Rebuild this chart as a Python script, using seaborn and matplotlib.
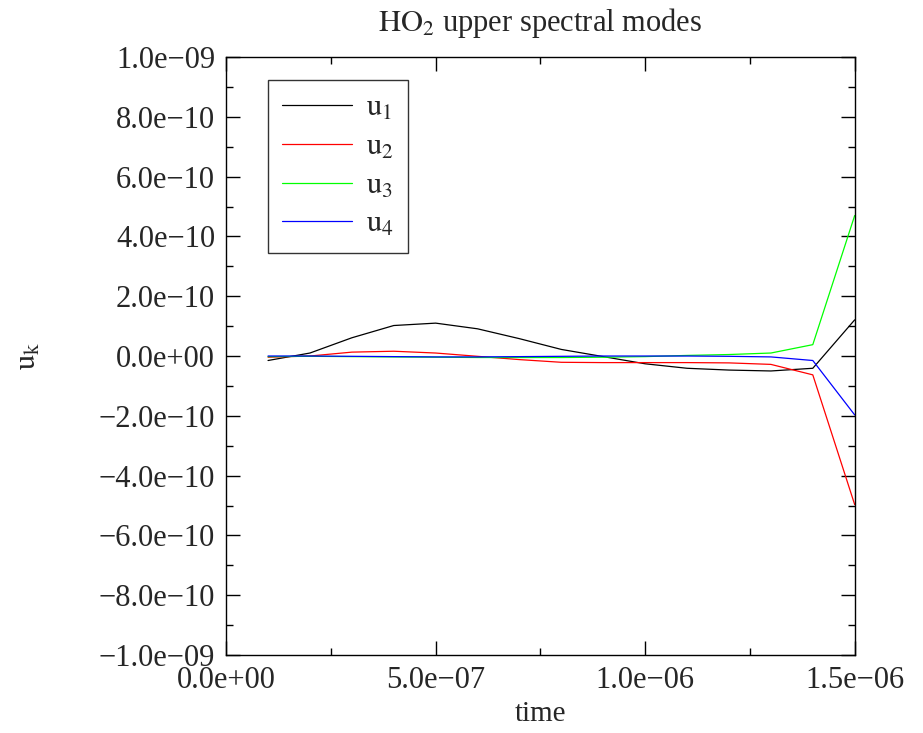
import numpy as np
import pandas as pd
import matplotlib
matplotlib.use("Agg")
import matplotlib.pyplot as plt
from matplotlib.ticker import FuncFormatter, MultipleLocator
import seaborn as sns

time = [1e-7, 2e-7, 3e-7, 4e-7, 5e-7, 6e-7, 7e-7, 8e-7, 9e-7, 1.0e-6,
        1.1e-6, 1.2e-6, 1.3e-6, 1.4e-6, 1.5e-6]
u1 = [-0.15e-10, 0.10e-10, 0.61e-10, 1.02e-10, 1.10e-10, 0.91e-10, 0.58e-10, 0.22e-10,
      -0.02e-10, -0.26e-10, -0.41e-10, -0.47e-10, -0.50e-10, -0.41e-10, 1.21e-10]
u2 = [-0.04e-10, 0.0, 0.13e-10, 0.16e-10, 0.10e-10, -0.01e-10, -0.12e-10, -0.21e-10,
      -0.22e-10, -0.22e-10, -0.22e-10, -0.23e-10, -0.28e-10, -0.63e-10, -4.97e-10]
u3 = [-0.02e-10, -0.01e-10, -0.02e-10, -0.03e-10, -0.04e-10, -0.05e-10, -0.05e-10, -0.05e-10,
      -0.04e-10, -0.02e-10, 0.02e-10, 0.05e-10, 0.10e-10, 0.38e-10, 4.70e-10]
u4 = [0.0, 0.0, -0.01e-10, -0.02e-10, -0.03e-10, -0.03e-10, -0.02e-10, -0.01e-10,
      0.0, 0.0, 0.0, -0.01e-10, -0.03e-10, -0.15e-10, -1.97e-10]
series_names = ["$\\mathrm{u}_{1}$", "$\\mathrm{u}_{2}$", "$\\mathrm{u}_{3}$", "$\\mathrm{u}_{4}$"]
colors = ["#000000", "#ff0000", "#00ff00", "#0000ff"]

rows = []
for name, vals in zip(series_names, [u1, u2, u3, u4]):
    for t, v in zip(time, vals):
        rows.append({"time": t, "value": v, "series": name})
df = pd.DataFrame(rows)

sns.set_style("ticks")
plt.rcParams["font.family"] = ["Liberation Serif", "DejaVu Serif"]
plt.rcParams["mathtext.fontset"] = "stix"
plt.rcParams["axes.linewidth"] = 1.0

fig = plt.figure(figsize=(9.23, 7.33), dpi=100)
ax = fig.add_axes([0.245, 0.1064, 0.681, 0.8158])

sns.lineplot(data=df, x="time", y="value", hue="series", palette=colors,
             linewidth=0.9, ax=ax, legend=True, sort=False, estimator=None)

ax.set_xlim(0, 1.5e-6)
ax.set_ylim(-1.0e-9, 1.0e-9)
ax.xaxis.set_major_locator(MultipleLocator(5e-7))
ax.xaxis.set_minor_locator(MultipleLocator(2.5e-7))
ax.yaxis.set_major_locator(MultipleLocator(2e-10))
ax.yaxis.set_minor_locator(MultipleLocator(1e-10))

def fmt(v, pos):
    if abs(v) < 1e-20:
        v = 0.0
    return f"{v:.1e}".replace("-", "\u2212")

ax.xaxis.set_major_formatter(FuncFormatter(fmt))
ax.yaxis.set_major_formatter(FuncFormatter(fmt))
ax.yaxis.get_offset_text().set_visible(False)
ax.xaxis.get_offset_text().set_visible(False)
ax.tick_params(which="both", direction="in", top=True, right=True, labelsize=22, color="black")
ax.tick_params(which="major", length=10, width=1)
ax.tick_params(which="minor", length=5, width=1)
ax.tick_params(axis="x", pad=8)
ax.tick_params(axis="y", pad=8)
for s in ax.spines.values():
    s.set_visible(True)
    s.set_color("black")

ax.set_xlabel("time", fontsize=21, labelpad=4)
ax.set_ylabel("$\\mathrm{u}_{\\mathrm{k}}$", fontsize=22, labelpad=40)
ax.set_title("$\\mathrm{HO}_{2}$ upper spectral modes", fontsize=22, pad=19)

leg = ax.legend(loc="upper left", bbox_to_anchor=(0.0668, 0.9615), fontsize=22, frameon=True,
                fancybox=False, edgecolor="black", handlelength=2.3, handletextpad=0.45,
                borderpad=0.45, labelspacing=0.32, borderaxespad=0.0, title=None)
leg.get_frame().set_linewidth(1.0)
for line in leg.get_lines():
    line.set_linewidth(0.9)

fig.savefig("out.png", dpi=100)
